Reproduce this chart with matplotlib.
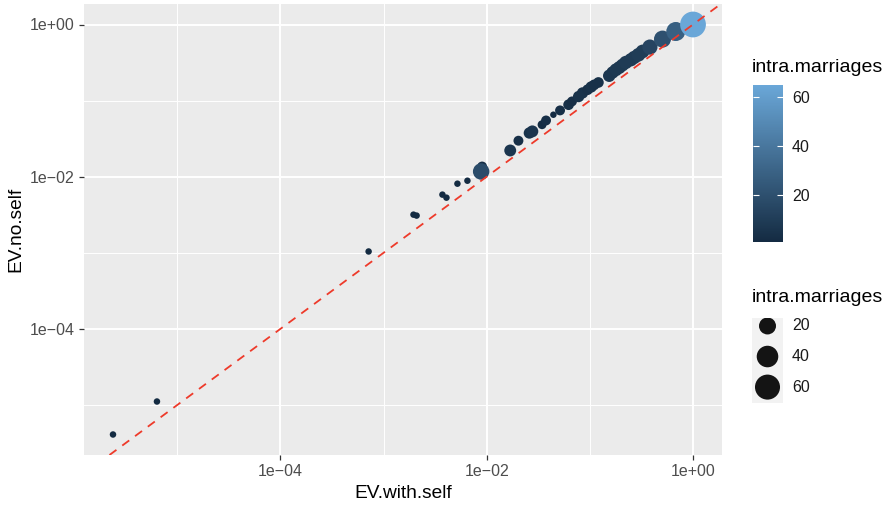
import numpy as np
import matplotlib
matplotlib.use("Agg")
import matplotlib.pyplot as plt
from matplotlib.colors import LinearSegmentedColormap, Normalize
from matplotlib.ticker import NullFormatter

plt.rcParams['font.family'] = ['Liberation Sans', 'DejaVu Sans']

# data
ev_with_self = [2.38e-6, 6.35e-6, 7.16e-4, 1.95e-3, 2.09e-3, 3.72e-3, 4.07e-3,
                5.20e-3, 6.50e-3, 9.02e-3, 8.83e-3, 1.69e-2, 2.03e-2, 2.59e-2,
                2.77e-2, 3.44e-2, 3.76e-2, 4.43e-2, 5.14e-2, 6.22e-2, 6.71e-2,
                7.78e-2, 8.49e-2, 9.51e-2, 0.103, 0.110, 0.121, 0.154, 0.166,
                0.179, 0.193, 0.207, 0.223, 0.250, 0.269, 0.296, 0.324, 0.382,
                0.506, 0.681, 1.0]
ev_no_self = [4.09e-6, 1.11e-5, 1.04e-3, 3.17e-3, 3.08e-3, 5.81e-3, 5.30e-3,
              8.09e-3, 8.85e-3, 1.36e-2, 1.17e-2, 2.21e-2, 2.97e-2, 3.75e-2,
              3.94e-2, 4.82e-2, 5.48e-2, 6.52e-2, 7.43e-2, 8.83e-2, 9.75e-2,
              0.113, 0.126, 0.139, 0.151, 0.161, 0.173, 0.212, 0.234, 0.254,
              0.272, 0.293, 0.317, 0.344, 0.369, 0.400, 0.442, 0.505, 0.643,
              0.809, 1.0]
intra_marriages = [1, 1, 1, 1, 1, 1, 1, 1, 1, 3, 18, 6, 3, 5, 6, 2, 3, 1, 3, 4,
                   3, 5, 5, 4, 5, 4, 4, 7, 7, 8, 8, 8, 9, 9, 9, 10, 10, 14, 20,
                   28, 65]

x_breaks = [1e-4, 1e-2, 1e0]
x_labels = ['1e\u221204', '1e\u221202', '1e+00']
y_breaks = [1e-4, 1e-2, 1e0]
y_labels = ['1e\u221204', '1e\u221202', '1e+00']
x_minor = [1e-5, 1e-3, 1e-1]
y_minor = [1e-5, 1e-3, 1e-1]
legend_breaks = [20, 40, 60]

W, H = 889, 505


def px_box(l, t, r, b):
    return [l / W, 1 - b / H, (r - l) / W, (b - t) / H]


def point_size(v, vmin, vmax):
    # ggplot-like area scale, diameter in pixels -> scatter area in pt^2
    d_px = 6.5 + 19.3 * np.sqrt((np.asarray(v, float) - vmin) / (vmax - vmin))
    return (d_px * 72 / 100) ** 2


def expand_log(vals, frac=0.05):
    lo, hi = np.log10(min(vals)), np.log10(max(vals))
    pad = (hi - lo) * frac
    return 10 ** (lo - pad), 10 ** (hi + pad)


vmin, vmax = min(intra_marriages), max(intra_marriages)
cmap = LinearSegmentedColormap.from_list('gg', ['#142B42', '#6AA7D8'])
norm = Normalize(vmin, vmax)

fig = plt.figure(figsize=(W / 100, H / 100), dpi=100)
ax = fig.add_axes(px_box(84, 4, 722, 455))
ax.set_facecolor('#EBEBEB')
ax.set_xscale('log')
ax.set_yscale('log')

sc = ax.scatter(ev_with_self, ev_no_self, c=intra_marriages, cmap=cmap,
                norm=norm, s=point_size(intra_marriages, vmin, vmax),
                linewidths=0, zorder=3)
ax.axline((1e-3, 1e-3), (1, 1), color='#EE3A2A', lw=1.3,
          linestyle=(0, (4.8, 4.0)), zorder=4)

ax.set_xlim(*expand_log(ev_with_self))
ax.set_ylim(*expand_log(ev_no_self))

ax.set_xticks(x_breaks, x_labels)
ax.set_yticks(y_breaks, y_labels)
ax.set_xticks(x_minor, minor=True)
ax.set_yticks(y_minor, minor=True)
ax.xaxis.set_minor_formatter(NullFormatter())
ax.yaxis.set_minor_formatter(NullFormatter())
ax.tick_params(which='major', length=3.4, width=0.9, color='#333333',
               labelsize=11.5, labelcolor='#4D4D4D', pad=3.2)
ax.tick_params(which='minor', length=0)
ax.grid(which='major', color='white', lw=1.4)
ax.grid(which='minor', color='white', lw=0.7)
ax.set_axisbelow(True)
for s in ax.spines.values():
    s.set_visible(False)

fig.text(403 / W, 1 - 493 / H, 'EV.with.self', ha='center', va='center',
         fontsize=13.8)
fig.text(16 / W, 1 - 229.5 / H, 'EV.no.self', ha='center', va='center',
         rotation=90, fontsize=13.8)

# colour legend
fig.text(752 / W, 1 - 68 / H, 'intra.marriages', ha='left', va='center',
         fontsize=14)
cax = fig.add_axes(px_box(752.7, 85, 783, 241.7))
cb = fig.colorbar(sc, cax=cax)
cb.outline.set_visible(False)
cb.set_ticks(legend_breaks)
cb.minorticks_off()
cax.tick_params(direction='in', length=4.3, width=0.8, color='white',
                left=True, right=True, labelleft=False, labelright=True,
                labelsize=11.5, labelcolor='#1A1A1A', pad=6.5)

# size legend
fig.text(752 / W, 1 - 297 / H, 'intra.marriages', ha='left', va='center',
         fontsize=14)
kax = fig.add_axes(px_box(752, 318, 783, 403))
kax.set_facecolor('#F2F2F2')
kpos = np.arange(len(legend_breaks))
kax.scatter(np.zeros(len(legend_breaks)), kpos,
            s=point_size(legend_breaks, vmin, vmax), color='#141414',
            linewidths=0)
kax.set_xlim(-0.5, 0.5)
kax.set_ylim(2.52, -0.26)
kax.set_xticks([])
kax.set_yticks([])
for s in kax.spines.values():
    s.set_visible(False)
for p, b in zip(kpos, legend_breaks):
    kax.text(1.29, p, str(b), transform=kax.get_yaxis_transform(),
             ha='left', va='center', fontsize=11.5, color='#1A1A1A')

fig.savefig('out.png', dpi=100)
